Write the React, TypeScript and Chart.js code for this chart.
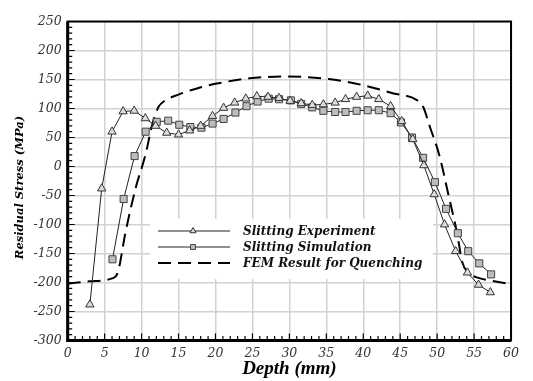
import React, { useEffect, useRef } from "react";
import { Chart, registerables } from "chart.js";

Chart.register(...registerables);

// Slitting Experiment (triangles)
const expDepth = [3.0, 4.6, 6.0, 7.5, 9.0, 10.5, 11.9, 13.4, 15.0, 16.5, 18.0, 19.6, 21.1, 22.6, 24.1, 25.6, 27.1, 28.6, 30.1, 31.6, 33.1, 34.6, 36.2, 37.6, 39.1, 40.6, 42.1, 43.7, 45.2, 46.7, 48.2, 49.6, 51.0, 52.5, 54.1, 55.6, 57.2];
const expStress = [-238, -38, 60, 95, 96, 83, 70, 58, 55, 62, 70, 87, 101, 110, 117, 121, 120, 118, 113, 109, 106, 107, 110, 116, 120, 122, 116, 104, 78, 47, 2, -48, -100, -146, -183, -204, -217];

// Slitting Simulation (squares)
const simDepth = [6.06, 7.57, 9.05, 10.55, 12.05, 13.6, 15.1, 16.6, 18.1, 19.6, 21.1, 22.7, 24.2, 25.7, 27.2, 28.6, 30.2, 31.6, 33.1, 34.6, 36.2, 37.6, 39.1, 40.6, 42.1, 43.7, 45.1, 46.6, 48.1, 49.7, 51.2, 52.8, 54.2, 55.7, 57.3];
const simStress = [-160, -56, 18, 60, 77, 79, 72, 68, 67, 74, 82, 93, 104, 112, 117, 116, 114, 108, 102, 96, 94, 94, 96, 97, 97, 92, 76, 50, 15, -27, -73, -115, -146, -167, -186];

// FEM Result for Quenching (dashed)
const femDepth = [0, 3, 6, 6.8, 7.8, 9.2, 10.5, 11.5, 12.3, 13.1, 15, 17.6, 20.2, 24.6, 29.5, 35.3, 39.7, 44.1, 47.2, 48.1, 49.0, 50.3, 51.6, 52.7, 53.4, 54.2, 55.6, 57.4, 59.6];
const femStress = [-202, -198, -193, -182, -115, -37, 19, 75, 103, 113, 124, 135, 143, 152, 155, 151, 141, 126, 115, 103, 69, 19, -53, -115, -165, -183, -192, -197, -202];

const xTicks = [0, 5, 10, 15, 20, 25, 30, 35, 40, 45, 50, 55, 60];
const yTicks = [-300, -250, -200, -150, -100, -50, 0, 50, 100, 150, 200, 250];
const seriesNames = ["Slitting Experiment", "Slitting Simulation", "FEM Result for Quenching"];
const xTitle = "Depth (mm)";
const yTitle = "Residual Stress (MPa)";

const pts = (xs: number[], ys: number[]) => xs.map((x, i) => ({ x, y: ys[i] }));

const SERIF = "'DejaVu Serif', serif";
const TIMES = "'Liberation Serif', serif";

function drawMarker(ctx: CanvasRenderingContext2D, style: string, x: number, y: number, r: number, fill: string, stroke: string) {
  ctx.save();
  ctx.fillStyle = fill;
  ctx.strokeStyle = stroke;
  ctx.lineWidth = 1;
  ctx.setLineDash([]);
  ctx.beginPath();
  if (style === "triangle") {
    let rad = 0;
    ctx.moveTo(x + Math.sin(rad) * r, y - Math.cos(rad) * r);
    rad += (2 * Math.PI) / 3;
    ctx.lineTo(x + Math.sin(rad) * r, y - Math.cos(rad) * r);
    rad += (2 * Math.PI) / 3;
    ctx.lineTo(x + Math.sin(rad) * r, y - Math.cos(rad) * r);
    ctx.closePath();
  } else {
    const s = r * Math.SQRT1_2;
    ctx.rect(x - s, y - s, 2 * s, 2 * s);
  }
  ctx.fill();
  ctx.stroke();
  ctx.restore();
}

const decor = {
  id: "decor",
  afterDatasetsDraw(chart: any) {
    const { ctx } = chart;
    ctx.save();
    // legend box
    ctx.fillStyle = "#ffffff";
    ctx.fillRect(142, 211, 283, 60);
    const rows = [223, 239, 255];
    chart.data.datasets.forEach((ds: any, i: number) => {
      const ry = rows[i];
      ctx.save();
      ctx.strokeStyle = ds.borderColor;
      ctx.lineWidth = ds.borderWidth;
      ctx.setLineDash(ds.borderDash || []);
      ctx.beginPath();
      ctx.moveTo(150, ry);
      ctx.lineTo(222, ry);
      ctx.stroke();
      ctx.restore();
      if (ds.pointRadius > 0) {
        drawMarker(ctx, ds.pointStyle, 185, ry, 3.5, ds.pointBackgroundColor, ds.pointBorderColor);
      }
      ctx.fillStyle = "#111";
      ctx.font = `italic bold 12px ${SERIF}`;
      ctx.textAlign = "left";
      ctx.textBaseline = "middle";
      ctx.fillText(ds.label, 235, ry + 1);
    });
    ctx.restore();
  },
  afterDraw(chart: any) {
    const { ctx, chartArea: a, scales } = chart;
    const xs = scales.x;
    const ys = scales.y;
    ctx.save();
    ctx.strokeStyle = "#000";
    // ticks
    ctx.lineWidth = 1.2;
    ctx.beginPath();
    for (let v = -300; v <= 250; v += 10) {
      const py = ys.getPixelForValue(v);
      const len = v % 50 === 0 ? 7 : 4.5;
      ctx.moveTo(a.left, py);
      ctx.lineTo(a.left + len, py);
    }
    for (let v = 0; v <= 60; v += 1) {
      const px = xs.getPixelForValue(v);
      const len = v % 5 === 0 ? 7 : 4.5;
      ctx.moveTo(px, a.bottom);
      ctx.lineTo(px, a.bottom - len);
    }
    ctx.stroke();
    // frame
    ctx.lineWidth = 2;
    ctx.strokeRect(a.left, a.top, a.right - a.left, a.bottom - a.top);
    ctx.lineWidth = 3;
    ctx.beginPath();
    ctx.moveTo(a.left, a.top);
    ctx.lineTo(a.left, a.bottom);
    ctx.lineTo(a.right, a.bottom);
    ctx.stroke();
    // titles
    ctx.fillStyle = "#000";
    ctx.textAlign = "center";
    ctx.textBaseline = "middle";
    ctx.font = `italic bold 19px ${TIMES}`;
    ctx.fillText(xTitle, (a.left + a.right) / 2, 361);
    ctx.save();
    ctx.translate(12, 179.5);
    ctx.rotate(-Math.PI / 2);
    ctx.font = `italic bold 11.5px ${SERIF}`;
    ctx.fillText(yTitle, 0, 0);
    ctx.restore();
    ctx.restore();
  },
};

export default function App() {
  const ref = useRef<HTMLCanvasElement | null>(null);
  useEffect(() => {
    if (!ref.current) return;
    const chart = new Chart(ref.current, {
      type: "line",
      data: {
        datasets: [
          {
            label: seriesNames[0],
            data: pts(expDepth, expStress),
            borderColor: "#222",
            borderWidth: 1,
            pointStyle: "triangle",
            pointRadius: 4.8,
            pointBackgroundColor: "#dcdcdc",
            pointBorderColor: "#333",
            pointBorderWidth: 1,
            tension: 0,
          },
          {
            label: seriesNames[1],
            data: pts(simDepth, simStress),
            borderColor: "#222",
            borderWidth: 1,
            pointStyle: "rect",
            pointRadius: 5,
            pointBackgroundColor: "#bdbdbd",
            pointBorderColor: "#444",
            pointBorderWidth: 1,
            tension: 0,
          },
          {
            label: seriesNames[2],
            data: pts(femDepth, femStress),
            borderColor: "#000",
            borderWidth: 2,
            borderDash: [13, 7],
            pointRadius: 0,
            cubicInterpolationMode: "monotone",
          },
        ],
      },
      options: {
        animation: false,
        responsive: true,
        maintainAspectRatio: false,
        layout: { padding: { left: 0, right: 5.5, top: 4.3, bottom: 0 } },
        plugins: { legend: { display: false }, tooltip: { enabled: false } },
        scales: {
          x: {
            type: "linear",
            min: 0,
            max: 60,
            afterBuildTicks: (s: any) => {
              s.ticks = xTicks.map((v) => ({ value: v }));
            },
            afterFit: (s: any) => {
              s.height = 40.5;
            },
            ticks: {
              color: "#333",
              font: { family: SERIF, style: "italic", size: 12.5 },
              padding: 6,
              maxRotation: 0,
              autoSkip: false,
            },
            grid: { color: "#d2d2d2", lineWidth: 1.5, drawTicks: false },
            border: { display: false },
          },
          y: {
            type: "linear",
            min: -300,
            max: 250,
            afterBuildTicks: (s: any) => {
              s.ticks = yTicks.map((v) => ({ value: v }));
            },
            afterFit: (s: any) => {
              s.width = 59.7;
            },
            ticks: {
              color: "#333",
              font: { family: SERIF, style: "italic", size: 12.5 },
              padding: 6,
              autoSkip: false,
            },
            grid: { color: "#d2d2d2", lineWidth: 1.5, drawTicks: false },
            border: { display: false },
          },
        },
      },
      plugins: [decor],
    });
    return () => chart.destroy();
  }, []);
  return (
    <div style={{ position: "fixed", left: 8, top: 8, width: 517, height: 373 }}>
      <canvas ref={ref} />
    </div>
  );
}
